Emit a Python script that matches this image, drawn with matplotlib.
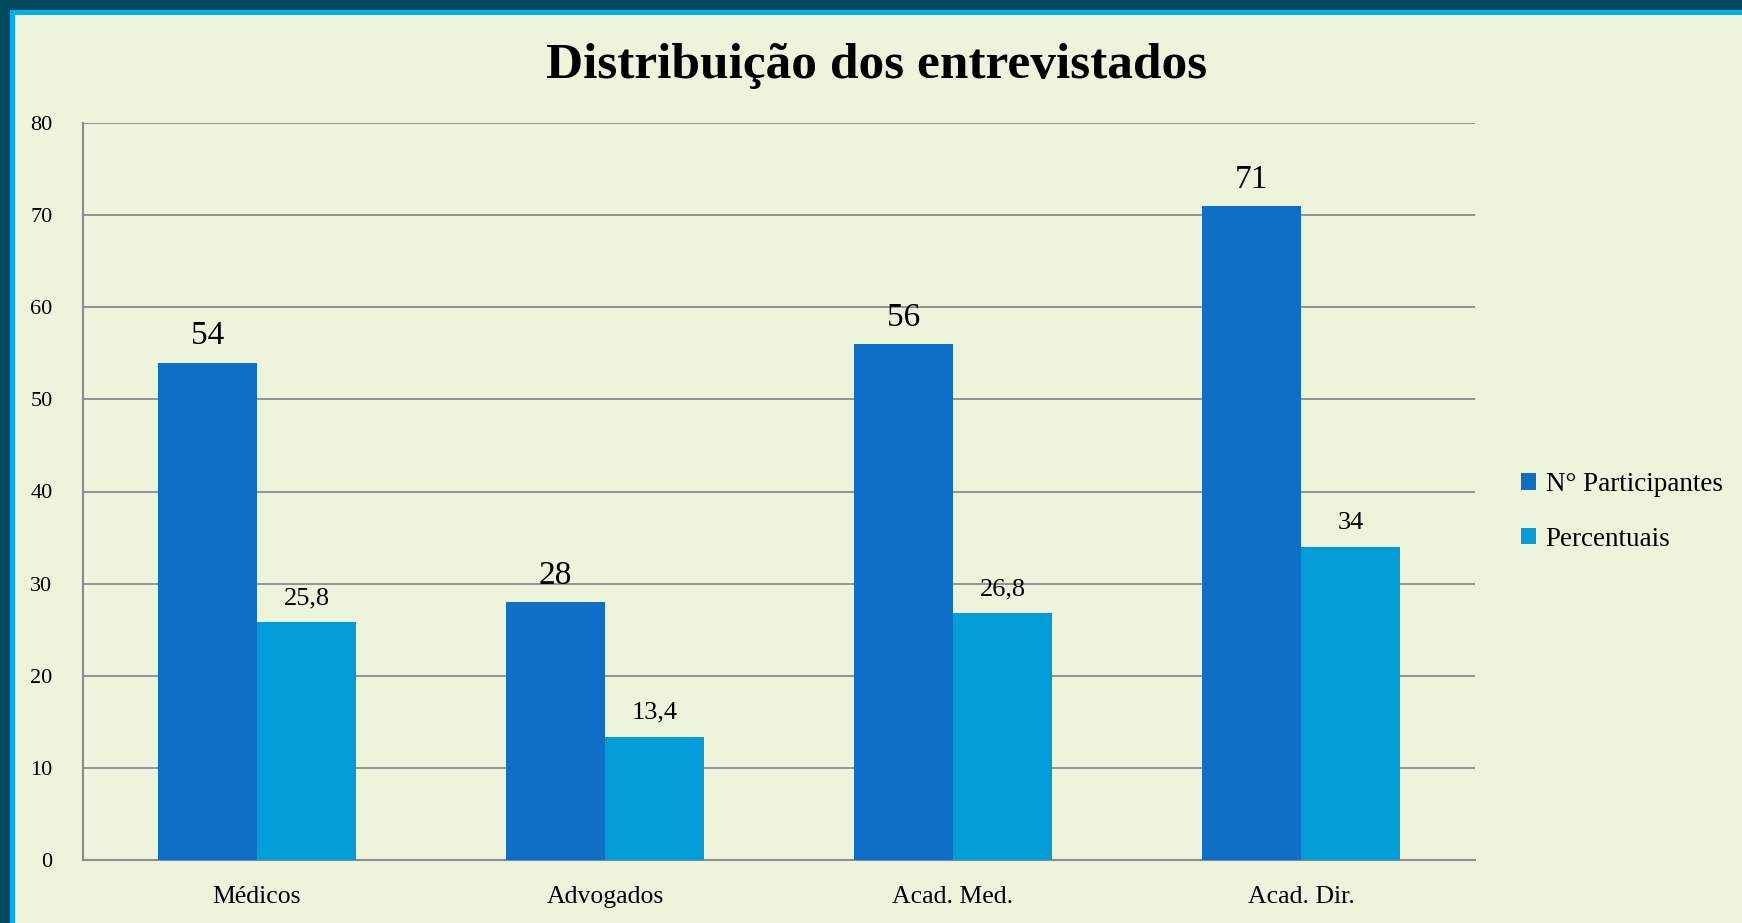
import matplotlib.pyplot as plt
import numpy as np
from matplotlib.patches import Rectangle

categorias = ['Médicos', 'Advogados', 'Acad. Med.', 'Acad. Dir.']
participantes = [54, 28, 56, 71]
percentuais = [25.8, 13.4, 26.8, 34]
rot_part = ['54', '28', '56', '71']
rot_perc = ['25,8', '13,4', '26,8', '34']

COR_PART = '#0F6FC6'
COR_PERC = '#009DD9'
FUNDO = '#EEF3DC'

plt.rcParams['font.family'] = ['Liberation Serif', 'DejaVu Serif']

fig = plt.figure(figsize=(17.42, 9.23), dpi=100)
fig.patch.set_facecolor('#024A5E')
# painel claro com filete azul
fig.patches.append(Rectangle((10/1742, 0), 1, 1 - 10/923, transform=fig.transFigure,
                             facecolor='#00B0F0', edgecolor='none', zorder=-2))
fig.patches.append(Rectangle((15/1742, 0), 1, 1 - 15/923, transform=fig.transFigure,
                             facecolor=FUNDO, edgecolor='none', zorder=-1))

ax = fig.add_axes([83/1742, 63/923, (1475-83)/1742, (860-123)/923])
ax.set_zorder(2)
ax.set_facecolor(FUNDO)

x = np.arange(len(categorias))
w = 0.285
b1 = ax.bar(x - w/2, participantes, w, color=COR_PART, label='N° Participantes', zorder=3)
b2 = ax.bar(x + w/2, percentuais, w, color=COR_PERC, label='Percentuais', zorder=3)

for r, t in zip(b1, rot_part):
    ax.text(r.get_x() + r.get_width()/2, r.get_height() + 1.2, t,
            ha='center', va='bottom', fontsize=24)
for r, t in zip(b2, rot_perc):
    ax.text(r.get_x() + r.get_width()/2, r.get_height() + 1.4, t,
            ha='center', va='bottom', fontsize=19)

ax.set_xlim(-0.5, 3.5)
ax.set_ylim(0, 80)
ax.set_yticks(range(0, 81, 10))
ax.set_xticks(x)
ax.set_xticklabels(categorias, fontsize=18.5)
ax.tick_params(axis='y', labelsize=16, length=0, pad=22)
ax.tick_params(axis='x', length=0, pad=19)
ax.grid(axis='y', color='#8C8C8C', linewidth=1.3, zorder=0)
for s in ['top', 'right']:
    ax.spines[s].set_visible(False)
for s in ['left', 'bottom']:
    ax.spines[s].set_color('#8C8C8C')
    ax.spines[s].set_linewidth(1.5)

fig.text(0.5 + 0.003, 1 - 66/923, 'Distribuição dos entrevistados',
         ha='center', va='center', fontsize=37, fontweight='bold')

leg = fig.legend(loc='center left', bbox_to_anchor=(1497/1742, 1 - 512/923),
                 frameon=False, fontsize=19.5, handlelength=0.55, handleheight=0.55,
                 handletextpad=0.35, labelspacing=1.1)

fig.savefig('out.png', dpi=100, facecolor=fig.get_facecolor())
